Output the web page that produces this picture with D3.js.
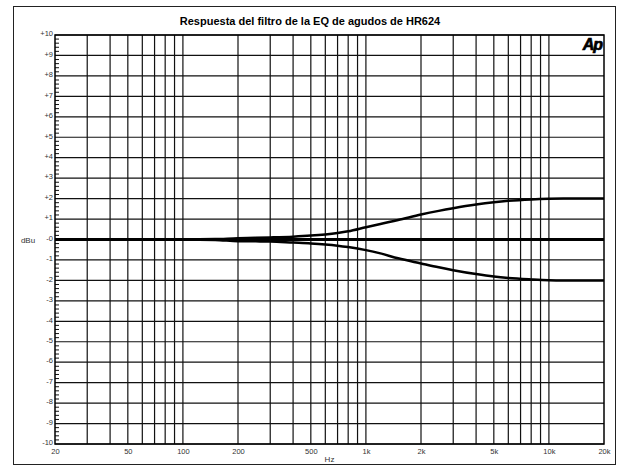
<!DOCTYPE html>
<html>
<head>
<meta charset="utf-8">
<script src="https://cdn.jsdelivr.net/npm/d3@7"></script>
<style>
  body { margin: 0; background: #fff; }
</style>
</head>
<body>
<script>
// data
var freqs = [20, 50, 100, 150, 200, 250, 300, 400, 500, 600, 700, 800, 1000, 1200, 1500, 2000, 2500, 3000, 4000, 5000, 6000, 8000, 10000, 12000, 15000, 20000];
var boost = [0, 0, 0, 0.02, 0.06, 0.08, 0.1, 0.14, 0.19, 0.25, 0.32, 0.4, 0.6, 0.76, 0.95, 1.22, 1.4, 1.53, 1.71, 1.82, 1.89, 1.96, 1.99, 2.0, 2.0, 2.0];
var cut   = [0, 0, 0, -0.02, -0.08, -0.09, -0.1, -0.15, -0.19, -0.24, -0.3, -0.37, -0.52, -0.68, -0.92, -1.17, -1.36, -1.5, -1.69, -1.81, -1.88, -1.95, -1.99, -2.0, -2.0, -2.0];
var flat  = [0, 0, 0, 0, 0, 0, 0, 0, 0, 0, 0, 0, 0, 0, 0, 0, 0, 0, 0, 0, 0, 0, 0, 0, 0, 0];

var xGrid = [30, 40, 50, 60, 70, 80, 90, 100, 200, 300, 400, 500, 600, 700, 800, 900, 1000,
             2000, 3000, 4000, 5000, 6000, 7000, 8000, 9000, 10000];
var xTicks = [20, 50, 100, 200, 500, 1000, 2000, 5000, 10000, 20000];
var xLabels = ["20", "50", "100", "200", "500", "1k", "2k", "5k", "10k", "20k"];
var yTicks = d3.range(-10, 11);
var yLabels = ["-10", "-9", "-8", "-7", "-6", "-5", "-4", "-3", "-2", "-1", "-0",
               "+1", "+2", "+3", "+4", "+5", "+6", "+7", "+8", "+9", "+10"];

var W = 622, H = 471,
    margin = {top: 35, right: 18, bottom: 27, left: 55},
    w = W - margin.left - margin.right,
    h = H - margin.top - margin.bottom,
    font = {family: "'Liberation Sans', Arial, sans-serif"};

var svg = d3.select("body").append("svg")
    .attr("width", W)
    .attr("height", H);

// outer frame
svg.append("rect")
    .attr("x", 13.5).attr("y", 6.5)
    .attr("width", 602).attr("height", 458)
    .attr("fill", "none")
    .attr("stroke", "#222")
    .attr("stroke-width", 1);

svg.append("text")
    .attr("x", 310)
    .attr("y", 25)
    .attr("text-anchor", "middle")
    .attr("font-family", font.family)
    .attr("font-weight", "bold")
    .attr("font-size", "11px")
    .text("Respuesta del filtro de la EQ de agudos de HR624");

var g = svg.append("g")
    .attr("transform", "translate(" + margin.left + "," + margin.top + ")");

var x = d3.scaleLog().domain([20, 20000]).range([0, w]);
var y = d3.scaleLinear().domain([-10, 10]).range([h, 0]);

// grid
g.append("g").selectAll("line")
    .data(xGrid)
    .enter().append("line")
        .attr("x1", function(d) { return x(d); })
        .attr("x2", function(d) { return x(d); })
        .attr("y1", 0).attr("y2", h)
        .attr("stroke", "#111")
        .attr("stroke-width", 1.2);

g.append("g").selectAll("line")
    .data(yTicks)
    .enter().append("line")
        .attr("x1", 0).attr("x2", w)
        .attr("y1", function(d) { return y(d); })
        .attr("y2", function(d) { return y(d); })
        .attr("stroke", "#111")
        .attr("stroke-width", 1.2);

// left axis: labels + minor ticks inside
var yAxis = d3.axisLeft(y)
    .tickValues(yTicks)
    .tickSize(0)
    .tickPadding(2)
    .tickFormat(function(d, i) { return yLabels[i]; });
g.append("g").call(yAxis)
    .call(function(a) { a.select(".domain").remove(); })
    .selectAll("text")
        .attr("font-family", font.family)
        .attr("font-size", "7.5px")
        .attr("fill", "#333")
        .attr("dy", "0.1em");

var minor = d3.range(-10, 10.01, 0.2).map(function(d) { return Math.round(d * 10) / 10; });
g.append("g").selectAll("line")
    .data(minor)
    .enter().append("line")
        .attr("x1", 0)
        .attr("x2", function(d) { return Number.isInteger(d) ? 0 : 4; })
        .attr("y1", function(d) { return y(d); })
        .attr("y2", function(d) { return y(d); })
        .attr("stroke", "#111")
        .attr("stroke-width", 1);

// bottom axis labels
var xAxis = d3.axisBottom(x)
    .tickValues(xTicks)
    .tickSize(0)
    .tickPadding(5)
    .tickFormat(function(d, i) { return xLabels[i]; });
g.append("g")
    .attr("transform", "translate(0," + h + ")")
    .call(xAxis)
    .call(function(a) { a.select(".domain").remove(); })
    .selectAll("text")
        .attr("font-family", font.family)
        .attr("font-size", "7.5px")
        .attr("fill", "#333");

// plot border
g.append("rect")
    .attr("width", w).attr("height", h)
    .attr("fill", "none")
    .attr("stroke", "#000")
    .attr("stroke-width", 1.5);

// axis titles
svg.append("text")
    .attr("x", 28).attr("y", y(0) + margin.top + 3)
    .attr("text-anchor", "middle")
    .attr("font-family", font.family)
    .attr("font-size", "8px")
    .attr("fill", "#333")
    .text("dBu");

svg.append("text")
    .attr("x", margin.left + w / 2).attr("y", 462)
    .attr("text-anchor", "middle")
    .attr("font-family", font.family)
    .attr("font-size", "8px")
    .attr("fill", "#333")
    .text("Hz");

// traces
var line = d3.line()
    .x(function(d) { return x(d[0]); })
    .y(function(d) { return y(d[1]); })
    .curve(d3.curveMonotoneX);

[boost, flat, cut].forEach(function(s, k) {
    g.append("path")
        .datum(freqs.map(function(f, i) { return [f, s[i]]; }))
        .attr("fill", "none")
        .attr("stroke", "#000")
        .attr("stroke-width", k === 1 ? 3 : 2.5)
        .attr("d", line);
});

// Ap logo
g.append("text")
    .attr("x", w - 2).attr("y", 15)
    .attr("text-anchor", "end")
    .attr("font-family", font.family)
    .attr("font-weight", "bold")
    .attr("font-style", "italic")
    .attr("font-size", "16px")
    .attr("letter-spacing", "-1px")
    .attr("stroke", "#000")
    .attr("stroke-width", 0.7)
    .text("Ap");
</script>
</body>
</html>
